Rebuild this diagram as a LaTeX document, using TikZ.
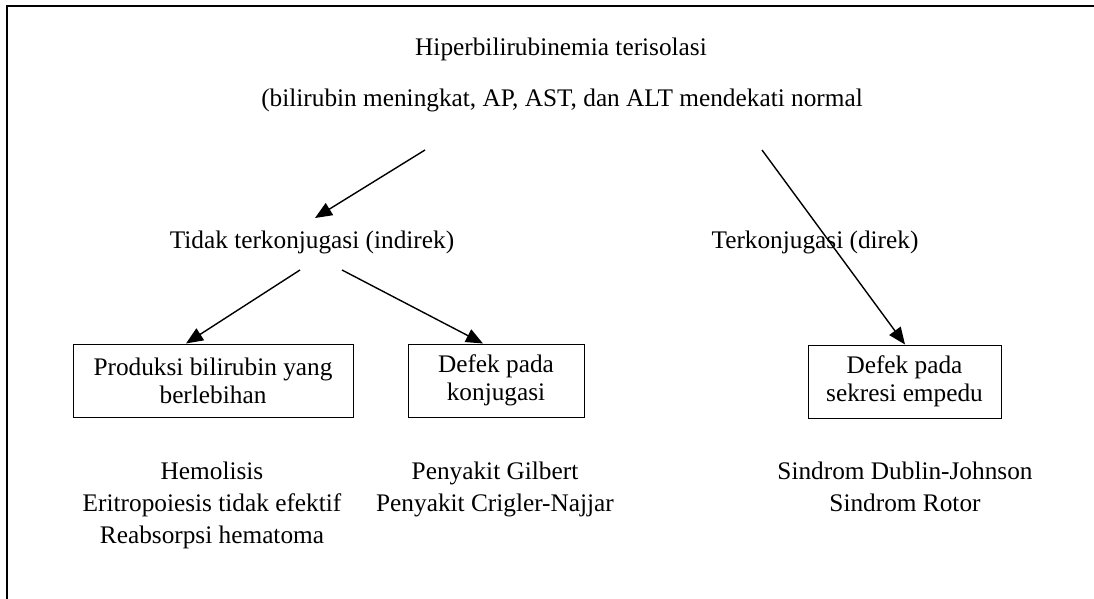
\documentclass[tikz,border=0pt]{standalone}
\usepackage{fontspec}
\setmainfont{Liberation Serif}
\usetikzlibrary{arrows.meta}
\begin{document}
\begin{tikzpicture}[x=1pt,y=-1pt,
  lbl/.style={inner sep=0pt,align=center,font=\fontsize{25.3}{28}\selectfont},
  list/.style={inner sep=0pt,align=center,font=\fontsize{25.3}{32}\selectfont},
  boxed/.style={lbl,draw,line width=1pt,minimum height=73pt},
  conn/.style={line width=1.4pt,-{Triangle[length=17pt,width=14pt]}},
  frame/.style={line width=1.5pt}]
\useasboundingbox (0,0) rectangle (1094,599);
% partial frame: top and left edges only
\draw[frame] (7,599) -- (7,6) -- (1094,6);

% headings
\node[lbl] (title) at (561,49) {Hiperbilirubinemia terisolasi};
\node[lbl] (sub) at (562,100) {(bilirubin meningkat, AP, AST, dan ALT mendekati normal};
\node[lbl] (ind) at (312,242) {Tidak terkonjugasi (indirek)};
\node[lbl] (dir) at (815,242) {Terkonjugasi (direk)};

% boxes
\node[boxed,minimum width=280pt] (prod) at (213,380.5) {Produksi bilirubin yang\\berlebihan};
\node[boxed,minimum width=176pt] (konj) at (496,380.5) {Defek pada\\konjugasi};
\node[boxed,minimum width=193pt] (sekr) at (904.5,381.5) {Defek pada\\sekresi empedu};

% disease lists
\node[list] (l1) at (212,505) {Hemolisis\\Eritropoiesis tidak efektif\\Reabsorpsi hematoma};
\node[list] (l2) at (495,489) {Penyakit Gilbert\\Penyakit Crigler-Najjar};
\node[list] (l3) at (905,487) {Sindrom Dublin-Johnson\\Sindrom Rotor};

% connector end points
\coordinate (s1) at (425,150);
\coordinate (e1) at (315,218);
\coordinate (s2) at (762,150);
\coordinate (s3) at (300,270);
\coordinate (s4) at (342,270);

\draw[conn] (s1) -- (e1);
\draw[conn] (s2) -- (sekr.north west -| 905,0);
\draw[conn] (s3) -- (prod.north west -| 186,0);
\draw[conn] (s4) -- (konj.north west -| 483,0);
\end{tikzpicture}
\end{document}
